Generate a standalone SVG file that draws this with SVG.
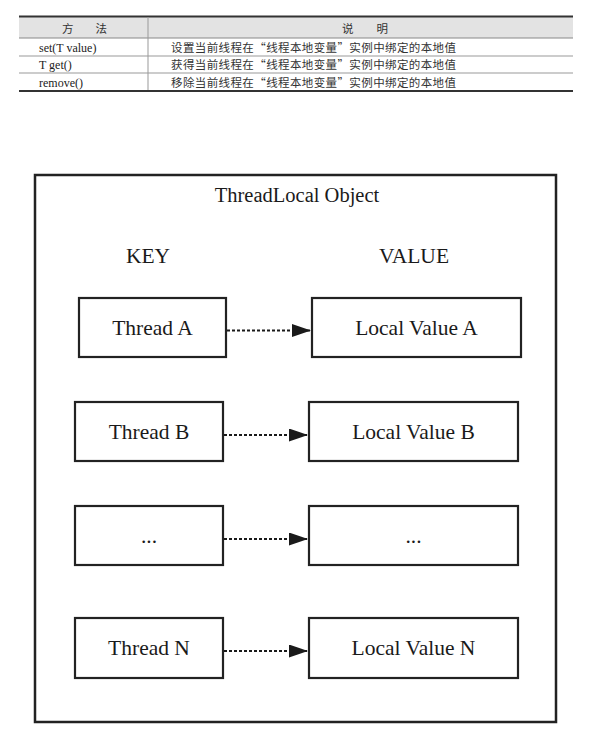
<svg xmlns="http://www.w3.org/2000/svg" width="606" height="742" viewBox="0 0 606 742">
<style>
.tt{font-family:"Liberation Serif","Noto Sans CJK SC",serif;font-size:12px;fill:#222}
.zh{font-family:"Noto Sans CJK SC",sans-serif;font-size:11.5px;fill:#333}
.node rect{fill:#fff;stroke:#222;stroke-width:2.2}
.node text,.lbl{font-family:"Liberation Serif","Times New Roman",serif;font-size:21.5px;fill:#1a1a1a;text-anchor:middle}
.conn line{stroke:#1a1a1a;stroke-width:2.2;stroke-dasharray:3 2}
</style>
<defs>
<marker id="ah" markerUnits="userSpaceOnUse" markerWidth="19" markerHeight="13" refX="19" refY="6.5" orient="auto">
<path d="M0,0 L19,6.5 L0,13 z" fill="#1a1a1a"/>
</marker>
</defs>
<rect width="606" height="742" fill="#fff"/>
<g id="table">
<rect x="19" y="17" width="554" height="21" fill="#e3e3e3"/>
<line x1="19" y1="16.5" x2="573" y2="16.5" stroke="#333" stroke-width="2"/>
<line x1="19" y1="38" x2="573" y2="38" stroke="#888" stroke-width="1"/>
<line x1="19" y1="56" x2="573" y2="56" stroke="#999" stroke-width="1"/>
<line x1="19" y1="73" x2="573" y2="73" stroke="#999" stroke-width="1"/>
<line x1="19" y1="91" x2="573" y2="91" stroke="#333" stroke-width="2"/>
<line x1="148" y1="17" x2="148" y2="90" stroke="#999" stroke-width="1"/>
<text class="zh" x="62" y="33" textLength="45" lengthAdjust="spacing">方　法</text>
<text class="zh" x="342" y="33" textLength="46" lengthAdjust="spacing">说　明</text>
<text class="tt" x="39" y="52">set(T value)</text>
<text class="tt" x="39" y="69">T get()</text>
<text class="tt" x="39" y="87">remove()</text>
<text class="zh" x="171" y="52" textLength="285" lengthAdjust="spacing">设置当前线程在“线程本地变量”实例中绑定的本地值</text>
<text class="zh" x="171" y="69" textLength="285" lengthAdjust="spacing">获得当前线程在“线程本地变量”实例中绑定的本地值</text>
<text class="zh" x="171" y="87" textLength="285" lengthAdjust="spacing">移除当前线程在“线程本地变量”实例中绑定的本地值</text>
</g>
<g id="threadlocal-object">
<rect x="35" y="175" width="521" height="547" fill="none" stroke="#222" stroke-width="2.5"/>
<text class="lbl" x="297" y="202" style="font-size:20.5px">ThreadLocal Object</text>
<text class="lbl" x="148" y="263">KEY</text>
<text class="lbl" x="414" y="263">VALUE</text>
</g>
<g id="thread-a" class="node"><rect x="79" y="298" width="147" height="59"/><text x="152.5" y="335">Thread A</text></g>
<g id="value-a" class="node"><rect x="312" y="298" width="209" height="59"/><text x="416.5" y="335">Local Value A</text></g>
<g id="thread-b" class="node"><rect x="75" y="402" width="148" height="59"/><text x="149" y="439">Thread B</text></g>
<g id="value-b" class="node"><rect x="309" y="402" width="209" height="59"/><text x="413.5" y="439">Local Value B</text></g>
<g id="thread-etc" class="node"><rect x="75" y="506" width="148" height="59"/><text x="149" y="543">...</text></g>
<g id="value-etc" class="node"><rect x="309" y="506" width="209" height="59"/><text x="413.5" y="543">...</text></g>
<g id="thread-n" class="node"><rect x="75" y="618" width="148" height="60"/><text x="149" y="655">Thread N</text></g>
<g id="value-n" class="node"><rect x="309" y="618" width="209" height="60"/><text x="413.5" y="655">Local Value N</text></g>
<g id="connectors" class="conn">
<line x1="227" y1="330.5" x2="311" y2="330.5" marker-end="url(#ah)"/>
<line x1="224" y1="435" x2="308" y2="435" marker-end="url(#ah)"/>
<line x1="224" y1="539" x2="308" y2="539" marker-end="url(#ah)"/>
<line x1="224" y1="651" x2="308" y2="651" marker-end="url(#ah)"/>
</g>
</svg>
